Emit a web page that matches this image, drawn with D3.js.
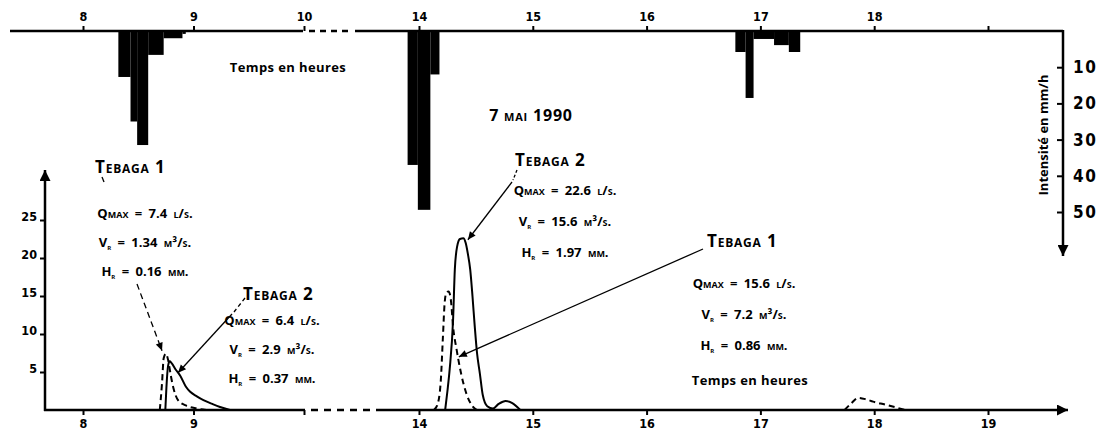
<!DOCTYPE html>
<html>
<head>
<meta charset="utf-8">
<script src="https://cdn.jsdelivr.net/npm/d3@7"></script>
<style>
body { margin: 0; background: #fff; }
svg text { font-family: 'Open Sans', sans-serif; font-weight: 700; fill: #000; }
</style>
</head>
<body>
<script>
var width = 1109, height = 442;

//Hour ticks shared by the top (rain) and bottom (flow) time axes.
var hourTicks = [8, 9, 10, 14, 15, 16, 17, 18, 19];
var topHourLabels = ['8', '9', '10', '14', '15', '16', '17', '18', ''];
var bottomHourLabels = ['8', '9', '', '14', '15', '16', '17', '18', '19'];
var flowTicks = [5, 10, 15, 20, 25];
var rainTicks = [10, 20, 30, 40, 50];

//Rain intensity (mm/h) per interval, start and end in hours.
var rainStart = [8.32, 8.43, 8.49, 8.59, 8.73, 8.90, 13.90, 13.99, 14.10, 16.78, 16.87, 16.94, 17.12, 17.25];
var rainEnd = [8.43, 8.49, 8.59, 8.73, 8.90, 8.93, 13.99, 14.10, 14.18, 16.87, 16.94, 17.12, 17.25, 17.35];
var rainIntensity = [12.7, 25, 31.5, 6.6, 2, 0.8, 37, 49.4, 12, 5.8, 18.5, 2.2, 3.9, 5.8];

//Hydrographs, [hour, flow in l/s].
var tebaga1Flood1 = [[8.695, 0], [8.715, 3.5], [8.73, 6.8], [8.75, 7.4], [8.77, 6.6], [8.795, 4.5], [8.82, 2.8], [8.86, 1.3], [8.93, 0.6], [9.03, 0.2], [9.12, 0]];
var tebaga2Flood1 = [[8.745, 0], [8.755, 3], [8.77, 5.8], [8.785, 6.4], [8.8, 6.2], [8.84, 5.3], [8.88, 4.5], [8.93, 3.1], [8.97, 2.4], [9.03, 1.8], [9.09, 1.3], [9.17, 0.8], [9.24, 0.4], [9.33, 0]];
var tebaga1Flood2 = [[14.13, 0], [14.16, 0.6], [14.19, 3.5], [14.21, 9.5], [14.225, 14], [14.24, 15.4], [14.26, 15.6], [14.28, 14.5], [14.3, 10.9], [14.33, 8], [14.37, 4.8], [14.42, 2], [14.47, 0.5], [14.51, 0]];
var tebaga2Flood2 = [[14.23, 0], [14.25, 2.5], [14.27, 5.4], [14.3, 12], [14.315, 18.5], [14.335, 21.5], [14.36, 22.5], [14.39, 22.6], [14.41, 22], [14.43, 20.5], [14.45, 18.5], [14.47, 15], [14.49, 11], [14.51, 7.5], [14.535, 4.8], [14.56, 2], [14.6, 0.5], [14.65, 0.2], [14.7, 0.8], [14.76, 1.2], [14.82, 0.9], [14.89, 0]];
var tebaga1Flood3 = [[17.74, 0], [17.8, 0.9], [17.86, 1.6], [17.93, 1.4], [17.99, 1.1], [18.1, 0.7], [18.2, 0.3], [18.27, 0]];

//Flood summaries written next to the curves.
var stationNames = ['Tebaga 1', 'Tebaga 2', 'Tebaga 2', 'Tebaga 1'];
var qmax = ['7.4', '6.4', '22.6', '15.6'];
var runoffVolume = ['1.34', '2.9', '15.6', '7.2'];
var runoffDepth = ['0.16', '0.37', '1.97', '0.86'];

var svg = d3.select('body').append('svg')
	.attr('width', width)
	.attr('height', height);

var defs = svg.append('defs');
defs.append('marker').attr('id', 'arrow')
	.attr('viewBox', '0 0 10 10').attr('refX', 10).attr('refY', 5)
	.attr('markerWidth', 11).attr('markerHeight', 8)
	.attr('markerUnits', 'userSpaceOnUse').attr('orient', 'auto')
	.append('path').attr('d', 'M0,0.5L10,5L0,9.5Z');
defs.append('marker').attr('id', 'axisArrow')
	.attr('viewBox', '0 0 10 10').attr('refX', 10).attr('refY', 5)
	.attr('markerWidth', 16).attr('markerHeight', 11)
	.attr('markerUnits', 'userSpaceOnUse').attr('orient', 'auto')
	.append('path').attr('d', 'M0,0L10,5L0,10Z');

//Time scale with a break between 10 h and the afternoon.
var x = d3.scaleLinear().domain([8, 10, 13.4, 19]).range([83, 304, 350.7, 988]);
var yFlow = d3.scaleLinear().domain([0, 25]).range([410, 220]);
var yRain = d3.scaleLinear().domain([0, 50]).range([31, 212]);

function line(x1, y1, x2, y2, w, dash) {
	return svg.append('line')
		.attr('x1', x1).attr('y1', y1).attr('x2', x2).attr('y2', y2)
		.style('stroke', '#000').style('stroke-width', w)
		.style('stroke-dasharray', dash || null);
}

//Rain bars hang down from the top axis.
svg.append('g').selectAll('rect').data(rainIntensity).enter().append('rect')
	.attr('x', function(d, i) { return x(rainStart[i]); })
	.attr('y', yRain(0))
	.attr('width', function(d, i) { return x(rainEnd[i]) - x(rainStart[i]); })
	.attr('height', function(d) { return yRain(d) - yRain(0); })
	.style('fill', '#000');

//Top axis.
line(10, 31, 303, 31, 2.5);
line(309, 31, 352, 31, 2.5, '6,5');
line(355, 31, 1063, 31, 2.5);
var topAxis = svg.append('g').attr('transform', 'translate(0,31)')
	.call(d3.axisTop(x).tickValues(hourTicks).tickSize(5).tickPadding(5)
		.tickFormat(function(d, i) { return topHourLabels[i]; }));
topAxis.select('.domain').remove();

//Right axis for intensity, pointing down.
line(1063, 30, 1063, 256, 2.5).attr('marker-end', 'url(#axisArrow)');
var rightAxis = svg.append('g').attr('transform', 'translate(1063,0)')
	.call(d3.axisRight(yRain).tickValues(rainTicks).tickSize(-6).tickPadding(10));
rightAxis.select('.domain').remove();
rightAxis.selectAll('text').style('font-size', '17px').style('letter-spacing', '1.5px')
	.style('font-family', 'DejaVu Sans Condensed');

svg.append('text')
	.attr('transform', 'translate(1048,135) rotate(-90)')
	.attr('text-anchor', 'middle')
	.style('font-size', '13px')
	.text('Intensité en mm/h');

//Bottom axis.
line(44, 410, 305, 410, 2.5);
line(311, 410, 372, 410, 2.5, '7,6');
line(376, 410, 1068, 410, 2.5).attr('marker-end', 'url(#axisArrow)');
var bottomAxis = svg.append('g').attr('transform', 'translate(0,410)')
	.call(d3.axisBottom(x).tickValues(hourTicks).tickSize(5).tickPadding(4)
		.tickFormat(function(d, i) { return bottomHourLabels[i]; }));
bottomAxis.select('.domain').remove();

//Left axis for flow.
line(45, 411, 45, 170, 2.5).attr('marker-end', 'url(#axisArrow)');
var leftAxis = svg.append('g').attr('transform', 'translate(45,0)')
	.call(d3.axisLeft(yFlow).tickValues(flowTicks).tickSize(5).tickPadding(3));
leftAxis.select('.domain').remove();
leftAxis.selectAll('text').attr('dy', '0.05em');

svg.selectAll('.tick line').style('stroke', '#000').style('stroke-width', 2);
svg.selectAll('.tick text')
	.filter(function() { return !this.style.fontSize; })
	.style('font-family', 'DejaVu Sans Condensed').style('font-size', '12.5px');

//Hydrographs: Tebaga 1 dashed, Tebaga 2 solid.
var flowLine = d3.line()
	.x(function(d) { return x(d[0]); })
	.y(function(d) { return yFlow(d[1]); })
	.curve(d3.curveMonotoneX);
[tebaga1Flood1, tebaga1Flood2, tebaga1Flood3].forEach(function(s) {
	svg.append('path').attr('d', flowLine(s))
		.style('fill', 'none').style('stroke', '#000').style('stroke-width', 2)
		.style('stroke-dasharray', '6,4');
});
[tebaga2Flood1, tebaga2Flood2].forEach(function(s) {
	svg.append('path').attr('d', flowLine(s))
		.style('fill', 'none').style('stroke', '#000').style('stroke-width', 2);
});

//Text blocks.
var blocks = [
	{x: 95, y: 173, cx: 145, gap: 45, step: 29},
	{x: 243, y: 300, cx: 272, gap: 25, step: 29},
	{x: 515, y: 166, cx: 565, gap: 29, step: 31},
	{x: 707, y: 247, cx: 744, gap: 41, step: 31}
];
blocks.forEach(function(b, i) {
	svg.append('text').attr('x', b.x).attr('y', b.y)
		.style('font-size', '17px').style('font-variant', 'small-caps').style('letter-spacing', '0.8px')
		.text(stationNames[i]);
	var yq = b.y + b.gap;
	svg.append('text').attr('x', b.cx).attr('y', yq).attr('text-anchor', 'middle')
		.style('font-size', '13px').style('font-variant', 'small-caps').style('word-spacing', '3px')
		.text('Qmax = ' + qmax[i] + ' l/s.');
	[['V', runoffVolume[i] + ' m³/s.'], ['H', runoffDepth[i] + ' mm.']].forEach(function(r, k) {
		var t = svg.append('text').attr('x', b.cx).attr('y', yq + b.step * (k + 1))
			.attr('text-anchor', 'middle')
			.style('font-size', '13px').style('font-variant', 'small-caps').style('word-spacing', '3px');
		t.append('tspan').text(r[0]);
		t.append('tspan').attr('dy', 3).style('font-size', '9px').text('r');
		t.append('tspan').attr('dy', -3).text(' = ' + r[1]);
	});
});

svg.append('text').attr('x', 531).attr('y', 121).attr('text-anchor', 'middle')
	.style('font-size', '16px').style('font-variant', 'small-caps').style('letter-spacing', '0.8px')
	.text('7 mai 1990');
svg.append('text').attr('x', 288).attr('y', 72).attr('text-anchor', 'middle')
	.style('font-size', '13px').style('letter-spacing', '0.4px').text('Temps en heures');
svg.append('text').attr('x', 750).attr('y', 385).attr('text-anchor', 'middle')
	.style('font-size', '13px').style('letter-spacing', '0.4px').text('Temps en heures');

//Leader arrows pointing at the peaks.
line(102, 177, 104, 182, 1.3);
line(137, 284, x(8.715), yFlow(7.8), 1.3, '6,4').attr('marker-end', 'url(#arrow)');
line(245, 298, 234, 312, 1.3, '4,3');
line(232, 314, x(8.86), yFlow(4.9), 1.3).attr('marker-end', 'url(#arrow)');
line(517, 170, 513, 180, 1.3, '3,2');
line(512, 182, x(14.43), yFlow(22.4), 1.3).attr('marker-end', 'url(#arrow)');
line(703, 249, x(14.35), yFlow(7), 1.3).attr('marker-end', 'url(#arrow)');
</script>
</body>
</html>
